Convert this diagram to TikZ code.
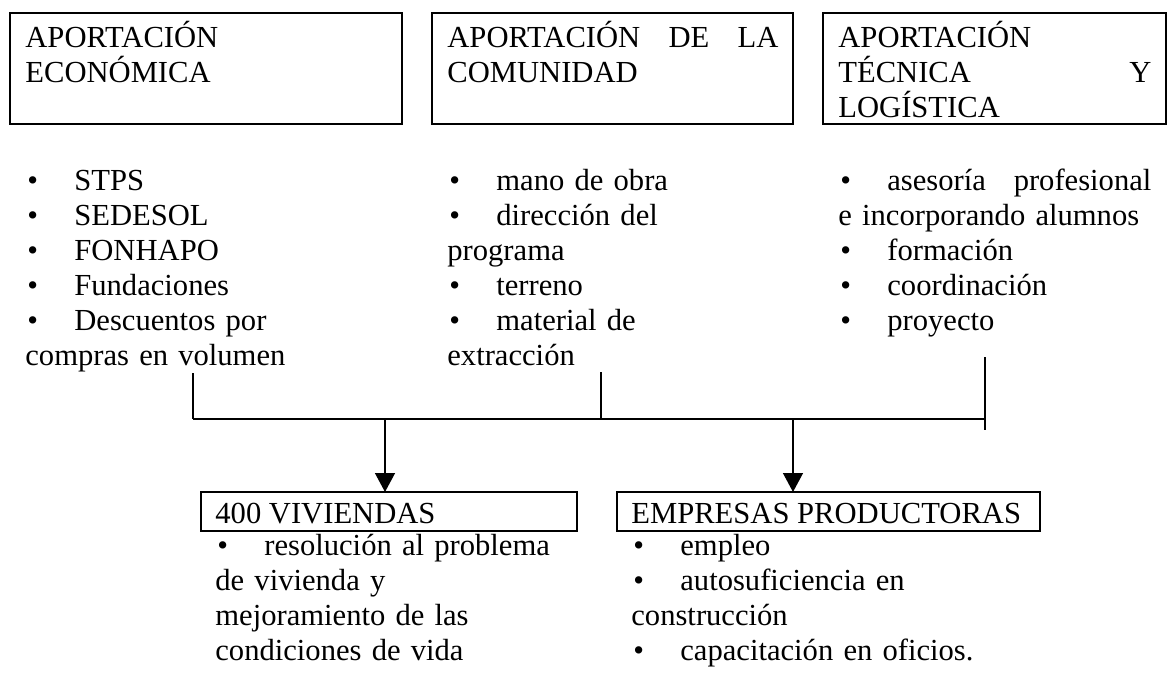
\documentclass[tikz,border=0pt]{standalone}
\usepackage{fontspec}
\setmainfont{Liberation Serif}
\usepackage{tikz}
\usetikzlibrary{positioning,calc,arrows.meta}
\tikzstyle{HEADBOX} = [rectangle, draw, line width=1pt, inner sep=0pt, outer sep=0pt, minimum width=196pt, minimum height=55.5pt]
\tikzstyle{RESULTBOX} = [rectangle, draw, line width=1pt, inner sep=0pt, outer sep=0pt, minimum height=19.5pt]
\tikzstyle{TEXTBLOCK} = [inner sep=0pt, align=left, anchor=base west, font=\fontsize{15.3}{17.6}\selectfont]
\tikzstyle{BAR} = [draw, line width=0.9pt]
\tikzstyle{ARROW} = [draw, line width=0.7pt, -{Triangle[width=10pt,length=9.5pt]}]
\newcommand{\BUL}{\makebox[24.5pt][l]{\hspace{1pt}\textbullet}}

\begin{document}
\begin{tikzpicture}
\useasboundingbox (0,0) rectangle (584.5pt,-340pt);
% Place node
\node [HEADBOX, anchor=north west] (ECONOMICA) at (5pt,-6.5pt) {};
\node [HEADBOX, minimum width=180.5pt, right=15pt of ECONOMICA] (COMUNIDAD) {};
\node [HEADBOX, minimum width=171.5pt, right=15pt of COMUNIDAD] (TECNICA) {};
\node [TEXTBLOCK, text width=181pt] (ECONOMICA_T) at ($(ECONOMICA.north west)+(7.5pt,-17pt)$) {APORTACIÓN\\ECONÓMICA};
\node [TEXTBLOCK, text width=165.5pt] (COMUNIDAD_T) at ($(COMUNIDAD.north west)+(7.5pt,-17pt)$) {APORTACIÓN\hfill DE\hfill LA\\COMUNIDAD};
\node [TEXTBLOCK, text width=156.5pt] (TECNICA_T) at ($(TECNICA.north west)+(7.5pt,-17pt)$) {APORTACIÓN\\TÉCNICA\hfill Y\\LOGÍSTICA};
%
\node [TEXTBLOCK, text width=181pt] (LIST_ECON) at ($(ECONOMICA.south west)+(7.5pt,-33pt)$) {\BUL STPS\\\BUL SEDESOL\\\BUL FONHAPO\\\BUL Fundaciones\\\BUL Descuentos por\\compras en volumen};
\node [TEXTBLOCK, text width=165.5pt] (LIST_COMU) at ($(COMUNIDAD.south west)+(7.5pt,-33pt)$) {\BUL mano de obra\\\BUL dirección del\\programa\\\BUL terreno\\\BUL material de\\extracción};
\node [TEXTBLOCK, text width=156.5pt] (LIST_TECN) at ($(TECNICA.south west)+(7.5pt,-33pt)$) {\BUL asesoría\hfill profesional\\e incorporando alumnos\\\BUL formación\\\BUL coordinación\\\BUL proyecto};
%
\node [RESULTBOX, minimum width=188pt, anchor=north west] (VIVIENDAS) at (100.5pt,-246pt) {};
\node [RESULTBOX, minimum width=211.5pt, right=20pt of VIVIENDAS] (EMPRESAS) {};
\node [TEXTBLOCK] (VIVIENDAS_T) at ($(VIVIENDAS.north west)+(7pt,-15.5pt)$) {400 VIVIENDAS};
\node [TEXTBLOCK] (EMPRESAS_T) at ($(EMPRESAS.north west)+(7pt,-15.5pt)$) {EMPRESAS PRODUCTORAS};
\node [TEXTBLOCK, text width=174pt] (LIST_VIVI) at ($(VIVIENDAS.south west)+(7pt,-12pt)$) {\BUL resolución al problema\\de vivienda y\\mejoramiento de las\\condiciones de vida};
\node [TEXTBLOCK, text width=197pt] (LIST_EMPR) at ($(EMPRESAS.south west)+(7pt,-12pt)$) {\BUL empleo\\\BUL autosuficiencia en\\construcción\\\BUL capacitación en oficios.};
% joints
\coordinate (TICK_L) at (96.5pt,-186.5pt);
\coordinate (TICK_M) at (300.5pt,-186pt);
\coordinate (TICK_R) at (492.5pt,-178.5pt);
\coordinate (TICK_R_END) at (492.5pt,-215pt);
\coordinate (BAR_L) at (96.5pt,-209.5pt);
\coordinate (DROP_A) at (192.5pt,-209.5pt);
\coordinate (DROP_B) at (396.5pt,-209.5pt);
% LINES and ARROWS
\path [BAR] (TICK_L) -- (BAR_L);
\path [BAR] (TICK_M) -- (TICK_M |- BAR_L);
\path [BAR] (TICK_R) -- (TICK_R_END);
\path [BAR] (BAR_L) -- (BAR_L -| TICK_R);
\path [ARROW] (DROP_A) -- (DROP_A |- VIVIENDAS.north);
\path [ARROW] (DROP_B) -- (DROP_B |- EMPRESAS.north);
\end{tikzpicture}
\end{document}
